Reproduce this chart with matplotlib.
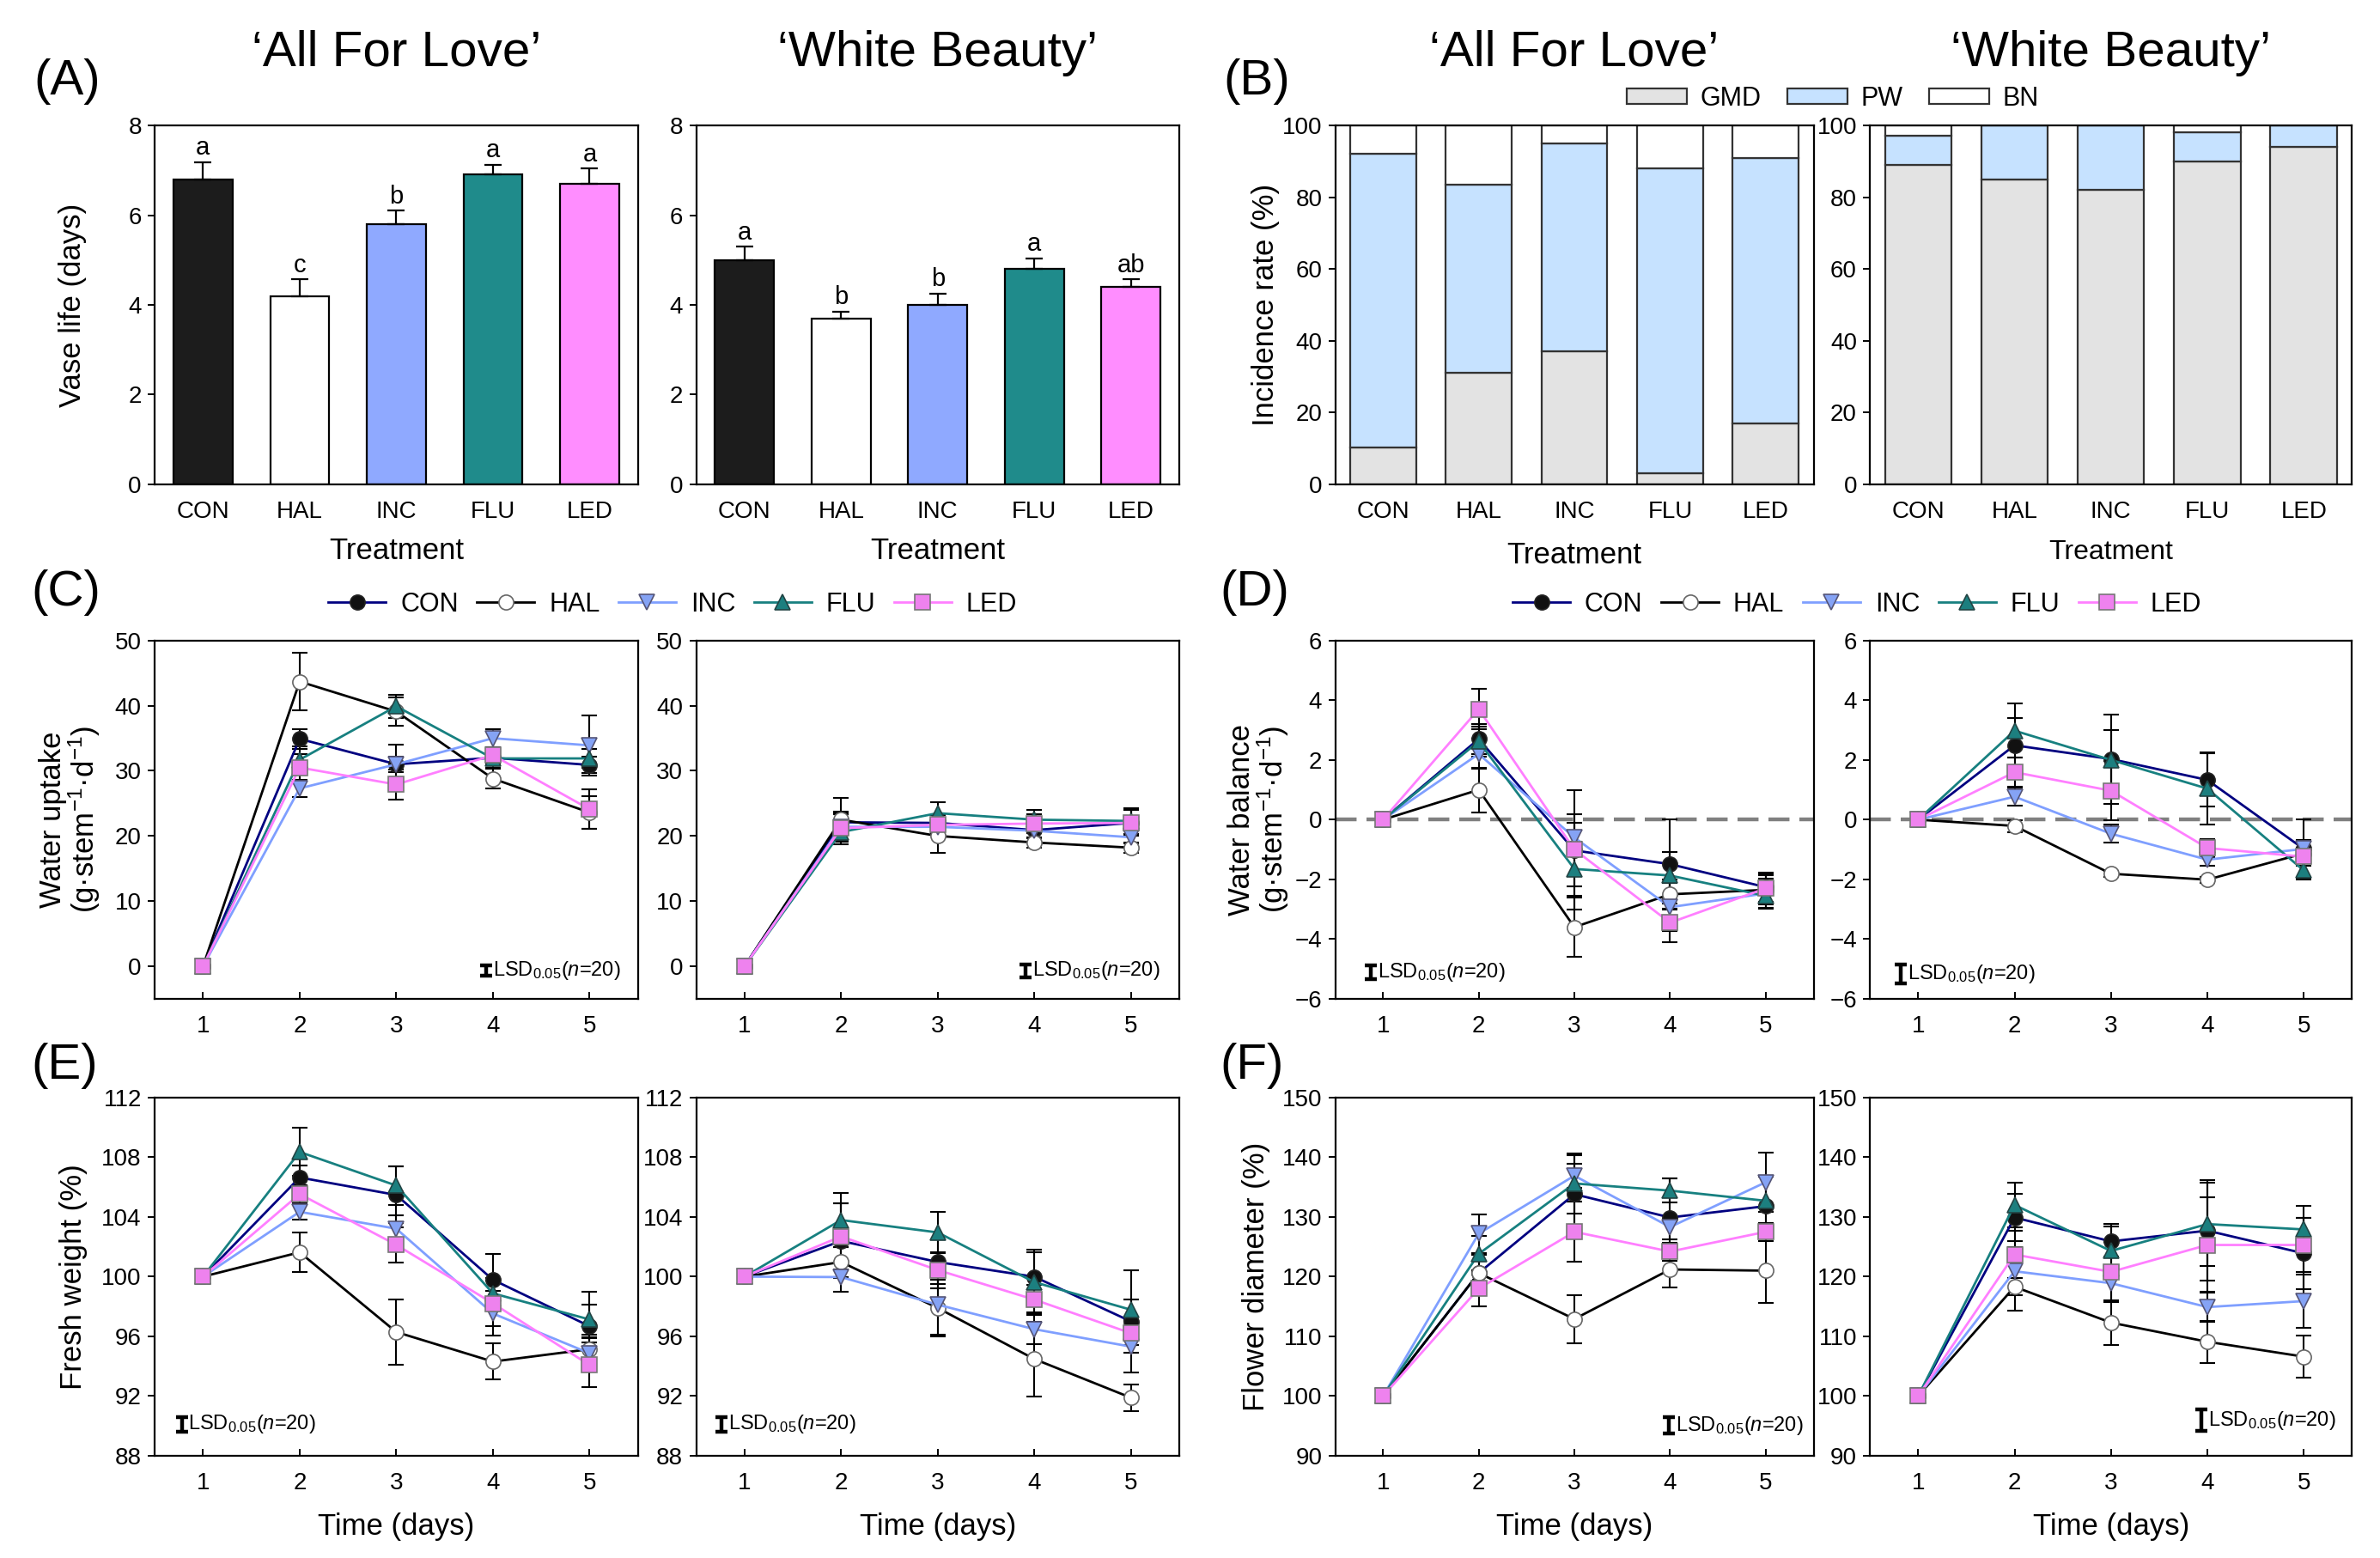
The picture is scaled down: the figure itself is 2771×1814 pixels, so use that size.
import matplotlib
matplotlib.use("Agg")
import matplotlib.pyplot as plt
from matplotlib.lines import Line2D
from matplotlib.patches import Patch

plt.rcParams['font.family'] = ['Liberation Sans', 'DejaVu Sans']
plt.rcParams['mathtext.fontset'] = 'custom'
plt.rcParams['mathtext.rm'] = 'Liberation Sans'
plt.rcParams['mathtext.it'] = 'Liberation Sans:italic'
plt.rcParams['mathtext.bf'] = 'Liberation Sans:bold'
plt.rcParams['axes.linewidth'] = 0.8

# ---------------- data ----------------
treatments = ['CON', 'HAL', 'INC', 'FLU', 'LED']
days = [1, 2, 3, 4, 5]

# (A) vase life
vase_afl = [6.80, 4.20, 5.80, 6.91, 6.70]
vase_afl_err = [0.39, 0.37, 0.30, 0.22, 0.34]
vase_afl_letters = ['a', 'c', 'b', 'a', 'a']
vase_wb = [5.00, 3.70, 4.00, 4.80, 4.40]
vase_wb_err = [0.30, 0.15, 0.25, 0.24, 0.17]
vase_wb_letters = ['a', 'b', 'b', 'a', 'ab']

# (B) incidence rate (%)
gmd_afl = [10.1, 31.1, 37.1, 3.0, 17.0]
pw_afl = [82.1, 52.5, 58.0, 85.0, 74.0]
bn_afl = [7.8, 16.4, 4.9, 12.0, 9.0]
gmd_wb = [89.1, 85.0, 82.0, 90.0, 94.1]
pw_wb = [8.0, 15.0, 18.0, 8.1, 5.9]
bn_wb = [2.9, 0.0, 0.0, 1.9, 0.0]

# (C) water uptake
uptake_afl = {'CON': [0, 34.9, 31.0, 32.0, 30.9], 'HAL': [0, 43.7, 39.1, 28.8, 23.6],
              'INC': [0, 27.3, 31.0, 35.0, 33.9], 'FLU': [0, 31.7, 39.9, 31.9, 31.9],
              'LED': [0, 30.5, 27.9, 32.4, 24.1]}
uptake_afl_err = {'CON': [0.3, 1.5, 1.2, 1.0, 1.3], 'HAL': [0.3, 4.4, 2.2, 1.5, 2.5],
                  'INC': [0.3, 1.3, 3.0, 1.4, 4.6], 'FLU': [0.3, 2.0, 1.8, 1.5, 1.5],
                  'LED': [0.3, 2.0, 2.3, 1.2, 3.0]}
uptake_wb = {'CON': [0, 22.1, 22.0, 20.9, 22.0], 'HAL': [0, 22.5, 20.0, 19.0, 18.2],
             'INC': [0, 21.4, 21.4, 20.8, 19.8], 'FLU': [0, 20.6, 23.5, 22.5, 22.3],
             'LED': [0, 21.2, 21.7, 21.9, 22.0]}
uptake_wb_err = {'CON': [0.3, 1.5, 1.2, 1.2, 2.0], 'HAL': [0.3, 3.3, 2.6, 0.8, 0.8],
                 'INC': [0.3, 2.0, 1.0, 1.0, 1.0], 'FLU': [0.3, 1.5, 1.7, 1.5, 2.0],
                 'LED': [0.3, 2.5, 1.5, 1.5, 2.0]}

# (D) water balance
balance_afl = {'CON': [0, 2.70, -1.03, -1.49, -2.26], 'HAL': [0, 1.00, -3.60, -2.50, -2.35],
               'INC': [0, 2.20, -0.60, -2.93, -2.47], 'FLU': [0, 2.62, -1.65, -1.87, -2.55],
               'LED': [0, 3.70, -1.00, -3.45, -2.30]}
balance_afl_err = {'CON': [0.1, 0.5, 1.2, 1.5, 0.5], 'HAL': [0.1, 0.75, 1.0, 0.5, 0.5],
                   'INC': [0.1, 0.5, 0.5, 0.8, 0.5], 'FLU': [0.1, 0.5, 0.9, 0.8, 0.4],
                   'LED': [0.1, 0.67, 2.0, 0.65, 0.5]}
balance_wb = {'CON': [0, 2.49, 2.03, 1.33, -0.98], 'HAL': [0, -0.21, -1.81, -2.01, -1.13],
              'INC': [0, 0.77, -0.47, -1.34, -0.98], 'FLU': [0, 2.98, 2.00, 1.04, -1.70],
              'LED': [0, 1.59, 0.97, -0.95, -1.24]}
balance_wb_err = {'CON': [0.1, 0.9, 1.5, 0.9, 1.0], 'HAL': [0.1, 0.2, 0.1, 0.1, 0.2],
                  'INC': [0.1, 0.3, 0.3, 0.2, 0.3], 'FLU': [0.1, 0.9, 1.0, 1.2, 0.3],
                  'LED': [0.1, 0.5, 1.0, 0.3, 0.3]}

# (E) fresh weight
fw_afl = {'CON': [100, 106.64, 105.47, 99.79, 96.68], 'HAL': [100, 101.63, 96.29, 94.31, 95.14],
          'INC': [100, 104.34, 103.21, 97.53, 94.87], 'FLU': [100, 108.35, 106.10, 98.88, 97.13],
          'LED': [100, 105.53, 102.13, 98.21, 94.08]}
fw_afl_err = {'CON': [0.2, 0.8, 1.9, 1.7, 2.3], 'HAL': [0.2, 1.3, 2.2, 1.2, 0.8],
              'INC': [0.2, 0.5, 0.9, 1.5, 1.0], 'FLU': [0.2, 1.6, 1.3, 1.0, 1.0],
              'LED': [0.2, 0.6, 1.2, 1.5, 1.5]}
fw_wb = {'CON': [100, 102.39, 100.98, 99.99, 97.00], 'HAL': [100, 100.98, 97.90, 94.48, 91.89],
         'INC': [100, 99.97, 98.12, 96.48, 95.31], 'FLU': [100, 103.79, 102.96, 99.63, 97.78],
         'LED': [100, 102.69, 100.44, 98.46, 96.21]}
fw_wb_err = {'CON': [0.2, 2.5, 1.5, 1.8, 3.4], 'HAL': [0.2, 1.0, 1.9, 2.5, 0.9],
             'INC': [0.2, 1.0, 2.0, 1.0, 0.4], 'FLU': [0.2, 1.8, 1.4, 2.0, 0.7],
             'LED': [0.2, 2.2, 1.2, 1.0, 0.8]}

# (F) flower diameter
fd_afl = {'CON': [100, 120.6, 133.8, 129.9, 131.8], 'HAL': [100, 120.6, 112.9, 121.2, 121.0],
          'INC': [100, 127.2, 136.9, 128.3, 135.8], 'FLU': [100, 123.8, 135.6, 134.4, 132.7],
          'LED': [100, 118.0, 127.5, 124.2, 127.5]}
fd_afl_err = {'CON': [0.5, 3.0, 6.5, 6.5, 5.0], 'HAL': [0.5, 3.0, 4.0, 3.0, 5.4],
              'INC': [0.5, 3.2, 2.0, 2.0, 5.0], 'FLU': [0.5, 3.0, 5.0, 2.0, 4.0],
              'LED': [0.5, 3.0, 5.0, 1.5, 1.5]}
fd_wb = {'CON': [100, 129.9, 125.9, 127.7, 123.9], 'HAL': [100, 118.3, 112.3, 109.1, 106.6],
         'INC': [100, 120.9, 118.9, 114.9, 115.9], 'FLU': [100, 132.0, 124.3, 128.8, 127.9],
         'LED': [100, 123.7, 120.8, 125.3, 125.3]}
fd_wb_err = {'CON': [0.5, 4.0, 2.5, 8.4, 6.0], 'HAL': [0.5, 4.0, 3.8, 3.5, 3.5],
             'INC': [0.5, 4.0, 3.0, 2.5, 4.5], 'FLU': [0.5, 3.7, 4.5, 7.0, 4.0],
             'LED': [0.5, 4.0, 5.0, 8.0, 4.5]}

# LSD bar lengths
lsd_uptake = [1.6, 1.9]
lsd_balance = [0.46, 0.62]
lsd_fw = [1.0, 1.0]
lsd_fd = [2.8, 3.6]

# ---------------- styles ----------------
bar_colors = ['#1c1c1c', '#ffffff', '#8fa9ff', '#1f8b8b', '#ff8dff']
line_colors = {'CON': '#000080', 'HAL': '#000000', 'INC': '#7f9fff', 'FLU': '#178080', 'LED': '#ff7fff'}
markers = {'CON': 'o', 'HAL': 'o', 'INC': 'v', 'FLU': '^', 'LED': 's'}
mfc = {'CON': '#111111', 'HAL': '#ffffff', 'INC': '#85a3f5', 'FLU': '#1c7f7f', 'LED': '#ee82ee'}
mec = {'CON': '#222222', 'HAL': '#666666', 'INC': '#555577', 'FLU': '#224444', 'LED': '#777777'}
gmd_color, pw_color, bn_color = '#e3e3e3', '#c6e2ff', '#ffffff'

fig = plt.figure(figsize=(13.855, 9.07), dpi=200)

col_left = [0.0650, 0.2925, 0.5610, 0.7857]
col_w = [0.2030, 0.2030, 0.2010, 0.2025]
row_bottom = [0.6893, 0.3589, 0.0656]
row_h = 0.2300

def make_ax(r, c):
    return fig.add_axes([col_left[c], row_bottom[r], col_w[c], row_h])

TICK = 10
LAB = 12.5

def style_ticks(ax, xin=True):
    ax.tick_params(axis='y', direction='out', length=3, width=0.7, pad=2.5, labelsize=TICK)
    ax.tick_params(axis='x', direction='in', length=3, width=0.7, pad=7, labelsize=TICK)

# ---------------- (A) ----------------
for c, (vals, errs, lets, title) in enumerate([
        (vase_afl, vase_afl_err, vase_afl_letters, '\u2018All For Love\u2019'),
        (vase_wb, vase_wb_err, vase_wb_letters, '\u2018White Beauty\u2019')]):
    ax = make_ax(0, c)
    x = list(range(len(treatments)))
    ax.bar(x, vals, width=0.61, color=bar_colors, edgecolor='black', linewidth=0.8, zorder=2)
    ax.errorbar(x, vals, yerr=[[0] * 5, errs], fmt='none', ecolor='black',
                elinewidth=0.8, capsize=3.5, capthick=0.8, zorder=3)
    for xi, v, e, l in zip(x, vals, errs, lets):
        ax.text(xi, v + e + 0.05, l, ha='center', va='bottom', fontsize=10.5)
    ax.set_xlim(-0.5, 4.5)
    ax.set_ylim(0, 8)
    ax.set_yticks([0, 2, 4, 6, 8])
    ax.set_xticks(x)
    ax.set_xticklabels(treatments)
    style_ticks(ax)
    ax.set_xlabel('Treatment', fontsize=LAB)
    ax.xaxis.set_label_coords(0.5, -0.148)
    ax.set_title(title, fontsize=21, pad=25)
    if c == 0:
        ax.set_ylabel('Vase life (days)', fontsize=LAB)
        ax.yaxis.set_label_coords(-0.140, 0.5)

# ---------------- (B) ----------------
for c, (g, p, b, title, xl_fs) in enumerate([
        (gmd_afl, pw_afl, bn_afl, '\u2018All For Love\u2019', LAB),
        (gmd_wb, pw_wb, bn_wb, '\u2018White Beauty\u2019', 11.5)]):
    ax = make_ax(0, 2 + c)
    x = list(range(len(treatments)))
    w = 0.69
    ax.bar(x, g, width=w, color=gmd_color, edgecolor='#333333', linewidth=0.8, zorder=2)
    bottoms = [gi for gi in g]
    ax.bar(x, p, width=w, bottom=bottoms, color=pw_color, edgecolor='#333333', linewidth=0.8, zorder=2)
    bottoms2 = [gi + pi for gi, pi in zip(g, p)]
    ax.bar(x, b, width=w, bottom=bottoms2, color=bn_color, edgecolor='#333333', linewidth=0.8, zorder=2)
    ax.set_xlim(-0.5, 4.5)
    ax.set_ylim(0, 100)
    ax.set_yticks([0, 20, 40, 60, 80, 100])
    ax.set_xticks(x)
    ax.set_xticklabels(treatments)
    style_ticks(ax)
    ax.set_xlabel('Treatment', fontsize=xl_fs)
    ax.xaxis.set_label_coords(0.5, -0.160 if c == 0 else -0.155)
    ax.set_title(title, fontsize=21, pad=25)
    if c == 0:
        ax.set_ylabel('Incidence rate (%)', fontsize=LAB)
        ax.yaxis.set_label_coords(-0.115, 0.5)

fig.legend(handles=[Patch(facecolor=gmd_color, edgecolor='#333333', linewidth=0.8, label='GMD'),
                    Patch(facecolor=pw_color, edgecolor='#333333', linewidth=0.8, label='PW'),
                    Patch(facecolor=bn_color, edgecolor='#333333', linewidth=0.8, label='BN')],
           loc='center', bbox_to_anchor=(0.770, 0.9366), ncol=3, frameon=False,
           fontsize=11, handlelength=2.3, handleheight=0.5, handletextpad=0.5, columnspacing=1.0)

# ---------------- line panels ----------------
def line_panel(ax, means, errs, ylim, yticks, lsd_x, lsd_y, lsd_len):
    for t in treatments:
        ax.errorbar(days, means[t], yerr=errs[t], fmt='none', ecolor='black',
                    elinewidth=0.75, capsize=3.2, capthick=0.75, zorder=2)
    for t in treatments:
        ax.plot(days, means[t], color=line_colors[t], lw=1.0, marker=markers[t], ms=6.2,
                mfc=mfc[t], mec=mec[t], mew=0.6, zorder=3)
    ax.set_xlim(0.5, 5.5)
    ax.set_xticks(days)
    ax.set_ylim(*ylim)
    ax.set_yticks(yticks)
    style_ticks(ax)
    ax.errorbar([lsd_x], [lsd_y], yerr=[lsd_len / 2.0], fmt='none', ecolor='black',
                elinewidth=1.6, capsize=2.6, capthick=1.6, zorder=4)
    ax.text(lsd_x + 0.07, lsd_y, r'LSD$_{0.05}$($\mathit{n}$=20)', ha='left', va='center',
            fontsize=8.5, zorder=4)

panels = [
    (1, 0, uptake_afl, uptake_afl_err, (-5, 50), [0, 10, 20, 30, 40, 50], 3.93, -0.7, lsd_uptake[0]),
    (1, 1, uptake_wb, uptake_wb_err, (-5, 50), [0, 10, 20, 30, 40, 50], 3.91, -0.7, lsd_uptake[1]),
    (1, 2, balance_afl, balance_afl_err, (-6, 6), [-6, -4, -2, 0, 2, 4, 6], 0.87, -5.11, lsd_balance[0]),
    (1, 3, balance_wb, balance_wb_err, (-6, 6), [-6, -4, -2, 0, 2, 4, 6], 0.82, -5.16, lsd_balance[1]),
    (2, 0, fw_afl, fw_afl_err, (88, 112), [88, 92, 96, 100, 104, 108, 112], 0.78, 90.1, lsd_fw[0]),
    (2, 1, fw_wb, fw_wb_err, (88, 112), [88, 92, 96, 100, 104, 108, 112], 0.76, 90.1, lsd_fw[1]),
    (2, 2, fd_afl, fd_afl_err, (90, 150), [90, 100, 110, 120, 130, 140, 150], 3.99, 95.1, lsd_fd[0]),
    (2, 3, fd_wb, fd_wb_err, (90, 150), [90, 100, 110, 120, 130, 140, 150], 3.94, 95.9, lsd_fd[1]),
]
axes = {}
for r, c, m, e, yl, yt, lx, ly, ll in panels:
    ax = make_ax(r, c)
    if r == 1 and c >= 2:
        ax.axhline(0, color='#808080', lw=1.6, ls=(0, (5.5, 2.6)), zorder=1)
    line_panel(ax, m, e, yl, yt, lx, ly, ll)
    axes[(r, c)] = ax
    if r == 2:
        ax.set_xlabel('Time (days)', fontsize=LAB)
        ax.xaxis.set_label_coords(0.5, -0.158)

axes[(1, 0)].set_ylabel('Water uptake\n(g\u00b7stem$^{-1}$\u00b7d$^{-1}$)', fontsize=LAB, linespacing=1.0)
axes[(1, 0)].yaxis.set_label_coords(-0.108, 0.5)
axes[(1, 2)].set_ylabel('Water balance\n(g\u00b7stem$^{-1}$\u00b7d$^{-1}$)', fontsize=LAB, linespacing=1.0)
axes[(1, 2)].yaxis.set_label_coords(-0.092, 0.5)
axes[(2, 0)].set_ylabel('Fresh weight (%)', fontsize=LAB)
axes[(2, 0)].yaxis.set_label_coords(-0.138, 0.5)
axes[(2, 2)].set_ylabel('Flower diameter (%)', fontsize=LAB)
axes[(2, 2)].yaxis.set_label_coords(-0.135, 0.5)

handles = [Line2D([], [], color=line_colors[t], lw=1.0, marker=markers[t], ms=6.2,
                  mfc=mfc[t], mec=mec[t], mew=0.6, label=t) for t in treatments]
for cx in (0.2826, 0.7802):
    fig.legend(handles=handles, loc='center', bbox_to_anchor=(cx, 0.6119), ncol=5, frameon=False,
               fontsize=11, handlelength=2.2, handletextpad=0.55, columnspacing=0.7)

# panel letters
for lab, x, y in [('(A)', 0.0141, 0.9476), ('(B)', 0.5140, 0.9476), ('(C)', 0.0130, 0.6196),
                  ('(D)', 0.5125, 0.6196), ('(E)', 0.0130, 0.3159), ('(F)', 0.5125, 0.3159)]:
    fig.text(x, y, lab, fontsize=21, ha='left', va='center')

fig.savefig('out.png', dpi=200)
